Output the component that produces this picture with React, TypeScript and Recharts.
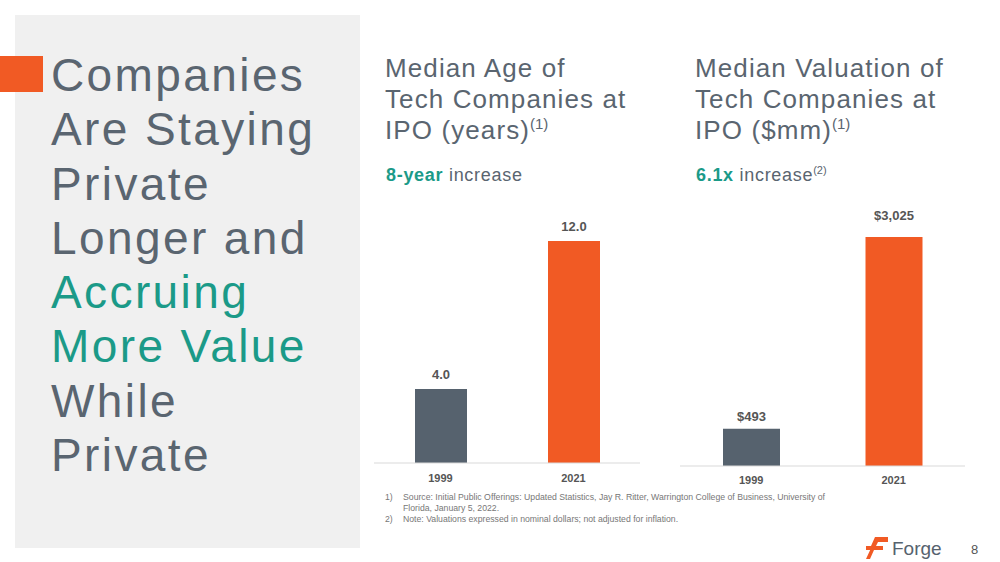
import React from "react";
import { BarChart, Bar, XAxis, YAxis, Cell, LabelList } from "recharts";

const years = ["1999", "2021"];
const ageValues = [4.0, 12.0];
const valuationValues = [493, 3025];
const barColors = ["#56626e", "#f15a24"];

const ageData = years.map((y, i) => ({ year: y, value: ageValues[i] }));
const valData = years.map((y, i) => ({ year: y, value: valuationValues[i] }));

const GREY = "#5a6570";
const TEAL = "#1b9a88";
const FONT = "'Liberation Sans', Arial, Helvetica, sans-serif";

const titleLines: { text: string; teal?: boolean }[] = [
  { text: "Companies" },
  { text: "Are Staying" },
  { text: "Private" },
  { text: "Longer and" },
  { text: "Accruing", teal: true },
  { text: "More Value", teal: true },
  { text: "While" },
  { text: "Private" },
];

const labelStyle = { fill: "#555", fontSize: 13, fontWeight: 700, fontFamily: FONT };

function makeTick(dy: number) {
  return (props: any) => {
    const { x, y, payload } = props;
    return (
      <text x={x} y={y + dy} textAnchor="middle" fill="#555" fontSize={11} fontWeight={700} fontFamily={FONT} dominantBaseline="middle">
        {payload.value}
      </text>
    );
  };
}

function makeLabel(offsets: number[], fmt: (v: number) => string) {
  return (props: any) => {
    const { x, y, width, value, index } = props;
    return (
      <text x={x + width / 2} y={y - offsets[index]} textAnchor="middle" style={labelStyle}>
        {fmt(Number(value))}
      </text>
    );
  };
}

export default function App() {
  return (
    <div style={{ position: "absolute", left: 0, top: 0, width: 1000, height: 562, background: "#fff", fontFamily: FONT, overflow: "hidden" }}>
      <div style={{ position: "absolute", left: 15, top: 15, width: 345, height: 533, background: "#f0f0f0" }} />
      <div style={{ position: "absolute", left: 0, top: 56, width: 43, height: 36, background: "#f15a24" }} />
      <div style={{ position: "absolute", left: 51, top: 48, fontSize: 46, lineHeight: "54.3px", letterSpacing: "2.4px", color: GREY }}>
        {titleLines.map((l, i) => (
          <div key={i} style={{ color: l.teal ? TEAL : GREY, whiteSpace: "nowrap" }}>{l.text}</div>
        ))}
      </div>

      <div style={{ position: "absolute", left: 385, top: 53, fontSize: 26, lineHeight: "31px", letterSpacing: "1.1px", color: GREY, whiteSpace: "nowrap" }}>
        <div>Median Age of</div>
        <div>Tech Companies at</div>
        <div>IPO (years)<sup style={{ fontSize: 15, verticalAlign: "10px", lineHeight: 0, letterSpacing: 0 }}>(1)</sup></div>
      </div>
      <div style={{ position: "absolute", left: 386, top: 165, fontSize: 18, letterSpacing: "0.7px", color: GREY, whiteSpace: "nowrap" }}>
        <span style={{ color: TEAL, fontWeight: 700 }}>8-year</span> increase
      </div>

      <div style={{ position: "absolute", left: 695, top: 53, fontSize: 26, lineHeight: "31px", letterSpacing: "1.1px", color: GREY, whiteSpace: "nowrap" }}>
        <div>Median Valuation of</div>
        <div>Tech Companies at</div>
        <div>IPO ($mm)<sup style={{ fontSize: 15, verticalAlign: "10px", lineHeight: 0, letterSpacing: 0 }}>(1)</sup></div>
      </div>
      <div style={{ position: "absolute", left: 696, top: 165, fontSize: 18, letterSpacing: "0.7px", color: GREY, whiteSpace: "nowrap" }}>
        <span style={{ color: TEAL, fontWeight: 700 }}>6.1x</span> increase<sup style={{ fontSize: 11, verticalAlign: "7px", lineHeight: 0, letterSpacing: 0 }}>(2)</sup>
      </div>

      <div style={{ position: "absolute", left: 374, top: 200 }}>
        <BarChart width={266} height={300} data={ageData} margin={{ top: 4, right: 0, bottom: 7, left: 0 }}>
          <XAxis dataKey="year" axisLine={{ stroke: "#d9d9d9" }} tickLine={false} tick={makeTick(8)} height={30} interval={0} />
          <YAxis hide domain={[0, 14]} />
          <Bar dataKey="value" barSize={52} isAnimationActive={false}>
            {ageData.map((d, i) => (
              <Cell key={d.year} fill={barColors[i]} />
            ))}
            <LabelList dataKey="value" content={makeLabel([10, 10], (v) => v.toFixed(1))} />
          </Bar>
        </BarChart>
      </div>

      <div style={{ position: "absolute", left: 680, top: 200 }}>
        <BarChart width={285} height={300} data={valData} margin={{ top: 1, right: 0, bottom: 4, left: 0 }}>
          <XAxis dataKey="year" axisLine={{ stroke: "#d9d9d9" }} tickLine={false} tick={makeTick(7)} height={30} interval={0} />
          <YAxis hide domain={[0, 3500]} />
          <Bar dataKey="value" barSize={57} isAnimationActive={false}>
            {valData.map((d, i) => (
              <Cell key={d.year} fill={barColors[i]} />
            ))}
            <LabelList dataKey="value" content={makeLabel([8, 17], (v) => "$" + v.toLocaleString("en-US"))} />
          </Bar>
        </BarChart>
      </div>

      <div style={{ position: "absolute", left: 385, top: 492, fontSize: 8.7, lineHeight: "11px", color: "#777", width: 450 }}>
        <div style={{ display: "flex" }}><span style={{ width: 18, flex: "none" }}>1)</span><span>Source: Initial Public Offerings: Updated Statistics, Jay R. Ritter, Warrington College of Business, University of Florida, January 5, 2022.</span></div>
        <div style={{ display: "flex" }}><span style={{ width: 18, flex: "none" }}>2)</span><span>Note: Valuations expressed in nominal dollars; not adjusted for inflation.</span></div>
      </div>

      <svg style={{ position: "absolute", left: 866, top: 537 }} width={24} height={22} viewBox="0 0 24 22">
        <path d="M9 0 H22 V5 H12 L10 9 H17 V13 H8 L4 22 H0 L6 9 L5 9 Z" fill="#f15a24" />
        <rect x={0} y={9} width={17} height={4} fill="#f15a24" />
      </svg>
      <div style={{ position: "absolute", left: 892, top: 538, fontSize: 19, color: "#56626e", fontWeight: 500 }}>Forge</div>
      <div style={{ position: "absolute", left: 971, top: 542, fontSize: 13, color: "#555" }}>8</div>
    </div>
  );
}
